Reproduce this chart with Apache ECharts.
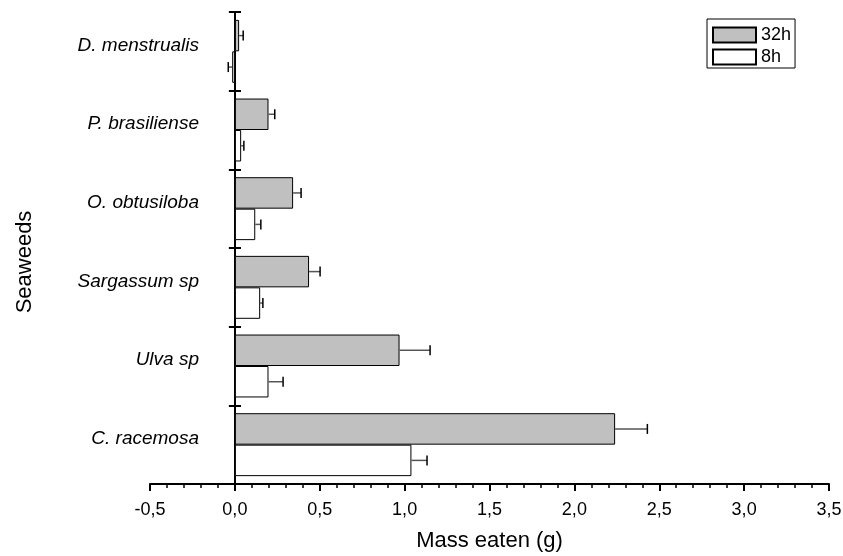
<!DOCTYPE html>
<html>
<head>
<meta charset="utf-8">
<script src="https://cdn.jsdelivr.net/npm/echarts@6/dist/echarts.min.js"></script>
<style>
  html, body { margin: 0; padding: 0; background: #fff; }
  #chart { width: 843px; height: 556px; }
</style>
</head>
<body>
<div id="chart"></div>
<script>
// categories bottom -> top
var seaweeds = ['C. racemosa', 'Ulva sp', 'Sargassum sp', 'O. obtusiloba', 'P. brasiliense', 'D. menstrualis'];
var eaten32h = [2.24, 0.97, 0.437, 0.343, 0.198, 0.025];
var err32h = [0.19, 0.18, 0.065, 0.047, 0.037, 0.024];
var eaten8h = [1.04, 0.198, 0.149, 0.12, 0.037, -0.016];
var err8h = [0.092, 0.086, 0.016, 0.033, 0.016, 0.023];
var xTicks = { min: -0.5, max: 3.5, step: 0.5 };

var font = 'Liberation Sans, Arial, sans-serif';

function errData(vals, errs) {
    return vals.map(function(v, i) { return [i, v, errs[i]]; });
}

function errRender(shift) {
    return function(params, api) {
        var cat = api.value(0);
        var val = api.value(1);
        var err = api.value(2);
        var band = api.size([0, 1])[1];
        var start = api.coord([val, cat]);
        var sign = val < 0 ? -1 : 1;
        var end = api.coord([val + sign * err, cat]);
        var y = start[1] + shift * band;
        return {
            type: 'group',
            children: [{
                type: 'line',
                shape: { x1: start[0], y1: y, x2: end[0], y2: y },
                style: { stroke: '#555', lineWidth: 1.5 }
            }, {
                type: 'line',
                shape: { x1: end[0], y1: y - 5, x2: end[0], y2: y + 5 },
                style: { stroke: '#000', lineWidth: 1.5 }
            }]
        };
    };
}

var chart = echarts.init(document.getElementById('chart'));

var option = {
    backgroundColor: '#fff',
    animation: false,
    grid: [{
        left: 150, right: 14, top: 12, bottom: 72,
        containLabel: false,
        outerBoundsMode: 'none'
    }, {
        // thin grid at x = 0 only for the inner half of the crossing ticks
        left: 235, width: 20, top: 12, bottom: 72,
        containLabel: false,
        outerBoundsMode: 'none'
    }],
    legend: {
        data: ['32h', '8h'],
        orient: 'vertical',
        left: 707, top: 19,
        borderColor: '#000', borderWidth: 1,
        padding: [7, 4, 2, 5],
        itemGap: 4,
        itemWidth: 43, itemHeight: 15,
        icon: 'rect',
        textStyle: { fontSize: 18, color: '#000', fontFamily: font }
    },
    xAxis: [{
        type: 'value',
        gridIndex: 0,
        min: xTicks.min, max: xTicks.max, interval: xTicks.step,
        name: 'Mass eaten (g)',
        nameLocation: 'middle',
        nameGap: 46,
        nameTextStyle: { fontSize: 22, color: '#000', fontFamily: font },
        axisLine: { show: true, onZero: false, lineStyle: { color: '#000', width: 2 } },
        axisTick: { show: true, length: 7, lineStyle: { color: '#000', width: 2 } },
        minorTick: { show: true, splitNumber: 5, length: 4, lineStyle: { color: '#000', width: 1.5 } },
        splitLine: { show: false },
        axisLabel: {
            fontSize: 18, color: '#000', fontFamily: font, margin: 17,
            formatter: function(v) { return v.toFixed(1).replace('.', ','); }
        }
    }, {
        type: 'value',
        gridIndex: 1,
        min: 0, max: 1,
        show: false
    }],
    yAxis: [{
        type: 'category',
        gridIndex: 0,
        data: seaweeds,
        name: 'Seaweeds',
        nameLocation: 'middle',
        nameGap: 114,
        nameTextStyle: { fontSize: 22, color: '#000', fontFamily: font, padding: [0, 28, 0, 0] },
        axisLine: { show: true, onZero: true, lineStyle: { color: '#000', width: 2 } },
        axisTick: { show: true, length: 6, lineStyle: { color: '#000', width: 2 } },
        axisLabel: {
            fontSize: 19, fontStyle: 'italic', color: '#000', fontFamily: font,
            margin: -49, verticalAlign: 'bottom', lineHeight: 12
        }
    }, {
        type: 'category',
        gridIndex: 1,
        data: seaweeds,
        axisLine: { show: false },
        axisTick: { show: true, inside: true, length: 6, lineStyle: { color: '#000', width: 2 } },
        axisLabel: { show: false }
    }],
    series: [{
        name: '32h',
        type: 'bar',
        data: eaten32h,
        barGap: '0%',
        barCategoryGap: '20%',
        itemStyle: { color: '#c0c0c0', borderColor: '#000', borderWidth: 1 }
    }, {
        name: '8h',
        type: 'bar',
        data: eaten8h,
        barGap: '0%',
        barCategoryGap: '20%',
        itemStyle: { color: '#fff', borderColor: '#000', borderWidth: 1 }
    }, {
        name: '32h err',
        type: 'custom',
        data: errData(eaten32h, err32h),
        encode: { x: 1, y: 0 },
        renderItem: errRender(-0.2),
        z: 5
    }, {
        name: '8h err',
        type: 'custom',
        data: errData(eaten8h, err8h),
        encode: { x: 1, y: 0 },
        renderItem: errRender(0.2),
        z: 5
    }]
};

chart.setOption(option);
</script>
</body>
</html>
